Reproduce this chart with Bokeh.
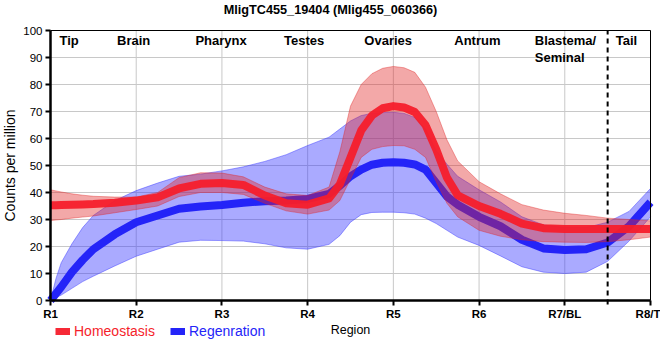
from bokeh.plotting import figure
from bokeh.models import (FixedTicker, Range1d, Legend, LegendItem, LinearAxis)
from bokeh.core.properties import value
from bokeh.embed import file_html
from bokeh.resources import INLINE

# ---------------- data ----------------
title_text = "MligTC455_19404 (Mlig455_060366)"
regions = [1, 2, 3, 4, 5, 6, 7, 8]
region_labels = ["R1", "R2", "R3", "R4", "R5", "R6", "R7/BL", "R8/T"]
y_ticks = [0, 10, 20, 30, 40, 50, 60, 70, 80, 90, 100]

xs = [1.0, 1.0625, 1.125, 1.25, 1.375, 1.5, 1.75, 2.0, 2.25, 2.5, 2.75, 3.0,
      3.25, 3.5, 3.75, 4.0, 4.25, 4.375, 4.5, 4.625, 4.75, 4.875, 5.0, 5.125,
      5.25, 5.375, 5.5, 5.625, 5.75, 6.0, 6.25, 6.5, 6.75, 7.0, 7.25, 7.5,
      7.75, 8.0]

homeo_mean = [35.3, 35.3, 35.4, 35.5, 35.6, 35.7, 36.2, 37.0, 38.2, 41.5, 43.2, 43.5,
              42.8, 38.9, 36.0, 35.5, 37.8, 43.0, 53.0, 63.0, 68.5, 71.2, 72.0, 71.5,
              69.8, 65.0, 56.0, 45.5, 39.0, 35.0, 32.1, 28.5, 26.8, 26.5, 26.5, 26.5,
              26.5, 26.5]
homeo_upper = [41.0, 40.6, 40.2, 39.5, 39.0, 38.6, 38.3, 38.3, 40.0, 45.5, 47.3, 47.2,
               45.8, 42.0, 39.5, 38.9, 42.0, 55.0, 72.0, 80.0, 84.0, 86.0, 86.7, 86.2,
               84.5, 79.0, 70.0, 59.5, 51.7, 44.0, 39.5, 35.5, 33.5, 32.3, 31.5, 30.5,
               30.0, 29.5]
homeo_lower = [29.6, 29.8, 30.0, 30.5, 30.9, 31.3, 32.5, 33.7, 35.0, 38.5, 40.0, 40.0,
               39.3, 36.0, 33.2, 32.0, 33.5, 37.0, 45.0, 53.0, 56.0, 57.0, 57.4, 57.3,
               56.0, 53.0, 44.0, 36.0, 31.0, 26.0, 23.8, 22.5, 21.8, 21.6, 21.5, 21.8,
               22.5, 23.5]

regen_mean = [0.0, 2.5, 5.0, 10.5, 15.0, 19.0, 24.5, 29.0, 31.5, 34.0, 34.8, 35.4,
              36.2, 36.8, 37.0, 37.6, 39.5, 42.5, 46.0, 48.5, 50.3, 51.0, 51.2, 51.0,
              50.4, 48.5, 43.5, 38.5, 35.5, 31.0, 27.5, 22.5, 19.3, 18.7, 19.0, 21.5,
              27.5, 36.4]
regen_upper = [0.0, 8.0, 14.0, 21.0, 27.0, 31.5, 37.0, 40.7, 43.5, 46.0, 46.8, 48.0,
               49.5, 51.5, 54.0, 57.4, 60.5, 63.5, 66.5, 68.5, 69.3, 69.6, 69.7, 69.3,
               67.8, 63.5, 55.5, 50.5, 46.0, 41.0, 36.5, 31.0, 28.0, 27.0, 27.0, 29.0,
               33.0, 41.5]
regen_lower = [0.0, 1.0, 2.0, 4.5, 7.0, 9.0, 12.8, 16.4, 19.0, 21.6, 22.3, 22.2,
               22.0, 21.0, 19.5, 19.0, 20.8, 24.0, 29.0, 31.8, 32.6, 32.7, 32.7, 32.5,
               32.0, 30.5, 28.5, 26.0, 23.5, 20.4, 16.5, 12.5, 10.5, 10.0, 10.5, 14.5,
               22.0, 31.0]

tissue_names_center = ["Brain", "Pharynx", "Testes", "Ovaries", "Antrum", "Tail"]
tissue_x_center = [1.97, 2.99, 3.96, 4.94, 5.98, 7.72]
tissue_names_left = ["Tip", "Blastema/\nSeminal"]
tissue_x_left = [1.105, 6.65]
tissue_y = 98.9
boundary_x = 7.5

# ---------------- figure ----------------
FONT = "Liberation Sans"
RED = "#F51E2B"
RED_BAND = "#E02525"
BLUE = "#2424F8"
BLUE_BAND = "#3535FF"
GRID = "#C8C8C8"

W, H = 660, 356
TOP = 30                 # pixels above y = 100 (room for the title)
TITLE_MID = 9            # pixels from the top to the middle of the title
LEFT = 50                # pixels left of x = 1 (room for y tick labels)
PX_X = 600 / 7.0         # pixels per region
PX_Y = 2.7               # pixels per count
X_MIN, X_MAX = regions[0], regions[-1]
Y_MIN, Y_MAX = y_ticks[0], y_ticks[-1]
x_start = X_MIN - LEFT / PX_X
x_end = X_MIN + (W - LEFT) / PX_X
y_end = Y_MAX + TOP / PX_Y
y_start = y_end - H / PX_Y

p = figure(width=W, height=H, output_backend="svg", toolbar_location=None,
           x_range=Range1d(x_start, x_end), y_range=Range1d(y_start, y_end),
           min_border_left=0, min_border_right=0, min_border_top=0,
           min_border_bottom=0)
p.background_fill_color = "white"
p.outline_line_color = None

# title, centred across the page
p.text(x=[(x_start + x_end) / 2], y=[y_end - TITLE_MID / PX_Y], text=[title_text],
       text_font=value(FONT), text_font_size="12.7px", text_font_style="bold",
       text_align="center", text_baseline="middle", text_color="black")

# grid (limited to the plot area)
p.xgrid.visible = False
p.ygrid.visible = False
p.segment(x0=regions, y0=[Y_MIN] * len(regions), x1=regions, y1=[Y_MAX] * len(regions),
          line_color=GRID, line_width=1)
p.segment(x0=[X_MIN] * len(y_ticks), y0=y_ticks, x1=[X_MAX] * len(y_ticks), y1=y_ticks,
          line_color=GRID, line_width=1)

# bands and lines
p.varea(x=xs, y1=regen_lower, y2=regen_upper, fill_color=BLUE_BAND, fill_alpha=0.42)
p.line(xs, regen_upper, line_color=BLUE_BAND, line_alpha=0.45, line_width=1)
p.line(xs, regen_lower, line_color=BLUE_BAND, line_alpha=0.45, line_width=1)
blue_line = p.line(xs, regen_mean, line_color=BLUE, line_width=8, line_join="round",
                   line_cap="butt")

p.varea(x=xs, y1=homeo_lower, y2=homeo_upper, fill_color=RED_BAND, fill_alpha=0.4)
p.line(xs, homeo_upper, line_color=RED_BAND, line_alpha=0.4, line_width=1)
p.line(xs, homeo_lower, line_color=RED_BAND, line_alpha=0.4, line_width=1)
red_line = p.line(xs, homeo_mean, line_color=RED, line_width=8, line_join="round",
                  line_cap="butt", line_alpha=0.95)

# boundary between blastema/seminal and tail
p.segment(x0=[boundary_x], y0=[Y_MIN - 1.5], x1=[boundary_x], y1=[Y_MAX],
          line_color="black", line_width=2, line_dash="5 4")

# tissue labels
p.text(x=tissue_x_center, y=[tissue_y] * len(tissue_x_center), text=tissue_names_center,
       text_font=value(FONT), text_font_size="13px", text_font_style="bold",
       text_align="center", text_baseline="top", text_color="black")
p.text(x=tissue_x_left, y=[tissue_y] * len(tissue_x_left), text=tissue_names_left,
       text_font=value(FONT), text_font_size="13px", text_font_style="bold",
       text_align="left", text_baseline="top", text_color="black",
       text_line_height=1.1)

# axes, fixed to the plot-area edges
p.xaxis.fixed_location = Y_MIN
p.xaxis.bounds = (X_MIN, X_MAX)
p.xaxis.ticker = FixedTicker(ticks=regions)
p.xaxis.major_label_overrides = {r: l for r, l in zip(regions, region_labels)}
p.yaxis.fixed_location = X_MIN
p.yaxis.ticker = FixedTicker(ticks=y_ticks)
p.yaxis.bounds = (Y_MIN, Y_MAX)
for ax in (p.xaxis[0], p.yaxis[0]):
    ax.axis_line_width = 2.5
    ax.axis_line_color = "black"
    ax.major_tick_line_width = 2
    ax.major_tick_line_color = "black"
    ax.major_tick_out = 5
    ax.major_tick_in = 0
    ax.minor_tick_line_color = None
    ax.major_label_text_font = FONT
    ax.major_label_text_font_size = "11.5px"
    ax.major_label_text_color = "black"
    ax.axis_label_text_font = FONT
    ax.axis_label_text_font_style = "normal"
    ax.axis_label_text_color = "black"
p.xaxis.major_label_text_font_style = "bold"
p.xaxis.major_label_standoff = 2
p.yaxis.major_label_standoff = 3
p.xaxis.axis_label = "Region"
p.xaxis.axis_label_text_font_size = "12.5px"
p.xaxis.axis_label_standoff = 0
p.yaxis.axis_label = "Counts per million"
p.yaxis.axis_label_text_font_size = "14px"
p.yaxis.axis_label_standoff = 2

# thin top and right borders of the plot area
top_axis = LinearAxis(ticker=FixedTicker(ticks=[]), axis_line_width=1,
                      axis_line_color="black", major_tick_line_color=None,
                      minor_tick_line_color=None, major_label_text_color=None,
                      fixed_location=Y_MAX, bounds=(X_MIN, X_MAX))
right_axis = LinearAxis(ticker=FixedTicker(ticks=[]), axis_line_width=1,
                        axis_line_color="black", major_tick_line_color=None,
                        minor_tick_line_color=None, major_label_text_color=None,
                        fixed_location=X_MAX, bounds=(Y_MIN, Y_MAX))
p.add_layout(top_axis, "above")
p.add_layout(right_axis, "right")

# legends (one per series so each label has its own colour)
for rend, label, col, xloc in ((red_line, "Homeostasis", RED, 55),
                               (blue_line, "Regenration", BLUE, 170)):
    lg = Legend(items=[LegendItem(label=label, renderers=[rend])],
                location=(xloc, 17), orientation="horizontal",
                background_fill_alpha=0, border_line_alpha=0,
                label_text_color=col, label_text_font=FONT,
                label_text_font_size="14px", glyph_width=15, glyph_height=7,
                label_standoff=4, padding=0, margin=0, spacing=0,
                label_height=14)
    p.add_layout(lg)

open("out.html", "w").write(file_html(p, INLINE))
